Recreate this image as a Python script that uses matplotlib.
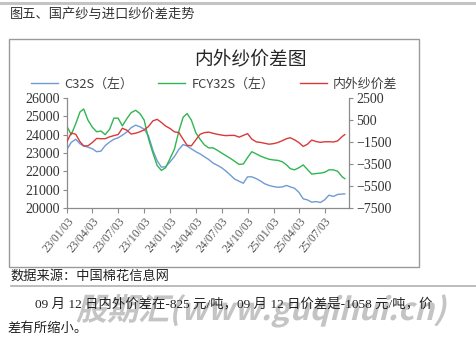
import matplotlib
matplotlib.use("Agg")
import matplotlib.pyplot as plt
import matplotlib.dates as mdates
from matplotlib.patches import Rectangle, PathPatch
from matplotlib.lines import Line2D
from matplotlib.textpath import TextPath
from matplotlib.font_manager import FontProperties
from matplotlib.transforms import Affine2D
import pandas as pd

# ---------------- data ----------------
dates = [
    "2023-01-03", "2023-01-18", "2023-02-03", "2023-02-18", "2023-03-03", "2023-03-18",
    "2023-04-03", "2023-04-18", "2023-05-03", "2023-05-18", "2023-06-03", "2023-06-18",
    "2023-07-03", "2023-07-18", "2023-08-03", "2023-08-18", "2023-09-03", "2023-09-18",
    "2023-10-03", "2023-10-18", "2023-11-03", "2023-11-18", "2023-12-03", "2023-12-18",
    "2024-01-03", "2024-01-18", "2024-02-03", "2024-02-18", "2024-03-03", "2024-03-18",
    "2024-04-03", "2024-04-18", "2024-05-03", "2024-05-18", "2024-06-03", "2024-06-18",
    "2024-07-03", "2024-07-18", "2024-08-03", "2024-08-18", "2024-09-03", "2024-09-18",
    "2024-10-03", "2024-10-18", "2024-11-03", "2024-11-18", "2024-12-03", "2024-12-18",
    "2025-01-03", "2025-01-18", "2025-02-03", "2025-02-18", "2025-03-03", "2025-03-18",
    "2025-04-03", "2025-04-18", "2025-05-03", "2025-05-18", "2025-06-03", "2025-06-18",
    "2025-07-03", "2025-07-18", "2025-08-03", "2025-08-18", "2025-09-03", "2025-09-12",
]

c32s = [
    23200, 23580, 23750, 23500, 23380, 23320,
    23230, 23070, 23100, 23400, 23600, 23750,
    23830, 23970, 24150, 24380, 24520, 24430,
    24300, 23950, 23150, 22580, 22230, 22250,
    22520, 22800, 23200, 23460, 23380, 23230,
    23070, 22950, 22800, 22650, 22450, 22330,
    22200, 22020, 21800, 21580, 21460, 21350,
    21700, 21700, 21600, 21470, 21320, 21230,
    21170, 21130, 21150, 21230, 21150, 21080,
    20850, 20500, 20440, 20320, 20350, 20300,
    20450, 20700, 20630, 20740, 20760, 20770,
]

fcy32s = [
    24450, 24000, 24600, 25240, 25400, 24800,
    24400, 24160, 24200, 24000, 24300, 24900,
    24900, 24480, 24880, 25200, 25330, 25150,
    24800, 23800, 23000, 22320, 22050, 22200,
    22710, 23200, 24200, 24950, 25150, 24800,
    24100, 23750, 23450, 23280, 23280, 23150,
    23000, 22860, 22710, 22550, 22380, 22400,
    22750, 23070, 22950, 22830, 22740, 22660,
    22620, 22600, 22520, 22350, 22150, 22080,
    22200, 22350, 22100, 21850, 21880, 21900,
    21950, 22080, 22080, 22000, 21700, 21600,
]

spread = [
    -1450, -680, -800, -1476, -1850, -1850,
    -1540, -1175, -1200, -1200, -1030, -920,
    -820, -250, -430, -780, -700, -572,
    -400, -100, 420, 560, 280, -50,
    -280, -572, -650, -1250, -1800, -1850,
    -1300, -800, -650, -600, -710, -800,
    -870, -920, -900, -900, -1060, -900,
    -740, -1235, -1490, -1540, -1620, -1700,
    -1650, -1550, -1380, -1200, -1114, -1300,
    -1560, -1900, -1700, -1325, -1460, -1530,
    -1480, -1476, -1500, -1400, -1000, -825,
]

series_labels = ["C32S（左）", "FCY32S（左）", "内外纱价差"]
left_ticks = [20000, 21000, 22000, 23000, 24000, 25000, 26000]
right_ticks = [-7500, -5500, -3500, -1500, 500, 2500]
x_ticks = ["2023-01-03", "2023-04-03", "2023-07-03", "2023-10-03", "2024-01-03",
           "2024-04-03", "2024-07-03", "2024-10-03", "2025-01-03", "2025-04-03",
           "2025-07-03"]

page_title = "图五、国产纱与进口纱价差走势"
chart_title = "内外纱价差图"
source_text = "数据来源：中国棉花信息网"
para_line1 = "09 月 12 日内外价差在-825 元/吨，09 月 12 日价差是-1058 元/吨，价"
para_line2 = "差有所缩小。"
watermark = "股期汇(www.guqihui.cn)"

# ---------------- figure ----------------
W, H = 476, 341
fig = plt.figure(figsize=(W / 100, H / 100), dpi=100)
fig.patch.set_facecolor("white")

CJK = ["Noto Sans CJK SC", "DejaVu Sans"]
SERIF = ["Liberation Serif", "Noto Sans CJK SC", "DejaVu Sans"]

def fx(px):
    return px / W

def fy(py):
    return 1 - py / H

# top page rule
fig.add_artist(Line2D([0, 1], [fy(3), fy(3)], color="#c4c4c4", lw=2.2))
fig.text(fx(10), fy(14), page_title, family=CJK, fontsize=9.5, color="#333333",
         va="center", ha="left")

# chart frame
fig.add_artist(Rectangle((fx(9), fy(267)), fx(419) - fx(9), fy(39) - fy(267),
                         transform=fig.transFigure, fill=False, ec="#9a9a9a", lw=1.0))

fig.text(fx(250), fy(59), chart_title, family=CJK, fontsize=13.5, color="#262626",
         va="center", ha="center")

# axes
ax = fig.add_axes([fx(67), fy(208), fx(349) - fx(67), fy(98) - fy(208)])
ax2 = ax.twinx()

d = pd.to_datetime(dates)
l1, = ax.plot(d, c32s, color="#6f9bd3", lw=1.0, label=series_labels[0])
l2, = ax.plot(d, fcy32s, color="#2fb552", lw=1.0, label=series_labels[1])
l3, = ax2.plot(d, spread, color="#d83a3a", lw=1.0, label=series_labels[2])

ax.set_ylim(20000, 26000)
ax.set_yticks(left_ticks)
ax2.set_ylim(-7500, 2500)
ax2.set_yticks(right_ticks)

ax.set_xlim(pd.Timestamp("2023-01-03"), pd.Timestamp("2025-09-27"))
ax.set_xticks(pd.to_datetime(x_ticks))
ax.xaxis.set_major_formatter(mdates.DateFormatter("%y/%m/%d"))

spine_c = "#8c8c8c"
for a in (ax, ax2):
    a.set_facecolor("none")
    a.spines["top"].set_visible(False)
    for s in a.spines.values():
        s.set_color(spine_c)
        s.set_linewidth(0.9)
ax.spines["right"].set_visible(False)
ax2.spines["left"].set_visible(False)
ax2.spines["bottom"].set_visible(False)

ax.tick_params(axis="y", length=3, width=0.8, color=spine_c, pad=2,
               labelsize=10, labelcolor="#333333")
ax2.tick_params(axis="y", length=3, width=0.8, color=spine_c, pad=2,
                labelsize=10, labelcolor="#333333")
ax.tick_params(axis="x", length=3.5, width=0.8, color=spine_c, pad=1.5,
               labelsize=8.4, labelcolor="#555555")
for lab in ax.get_yticklabels() + ax2.get_yticklabels():
    lab.set_family(SERIF)
for lab in ax.get_xticklabels():
    lab.set_family(SERIF)
    lab.set_rotation(50)
    lab.set_ha("right")
    lab.set_va("top")
    lab.set_rotation_mode("anchor")

# legend
leg = fig.legend(handles=[l1, l2, l3], labels=series_labels, loc="center",
                 bbox_to_anchor=(fx(214), fy(84)), ncol=3, frameon=False,
                 prop=FontProperties(family=CJK, size=9.3), handlelength=2.1,
                 handletextpad=0.45, columnspacing=2.0, borderaxespad=0, borderpad=0)
for t in leg.get_texts():
    t.set_color("#404040")

# source + page text
fig.text(fx(10), fy(276), source_text, family=CJK, fontsize=9.5, color="#222222",
         va="center", ha="left")
fig.add_artist(Line2D([fx(11), 1], [fy(286), fy(286)], color="#b0b0b0", lw=1.2))
fig.text(fx(35), fy(304), para_line1, family=SERIF, fontsize=9.6, color="#222222",
         va="center", ha="left")
fig.text(fx(7), fy(329), para_line2, family=SERIF, fontsize=9.6, color="#222222",
         va="center", ha="left")

# watermark (bold, slanted)
tp = TextPath((0, 0), watermark, size=31,
              prop=FontProperties(family=["Noto Sans CJK SC"], weight="bold"))
tr = Affine2D().skew_deg(14, 0).translate(76, H - 320).scale(1 / 100) + fig.dpi_scale_trans
fig.add_artist(PathPatch(tp, transform=tr, fc="#8a8a8a", ec="none", alpha=0.5))

fig.savefig("out.png", dpi=100, facecolor="white")
